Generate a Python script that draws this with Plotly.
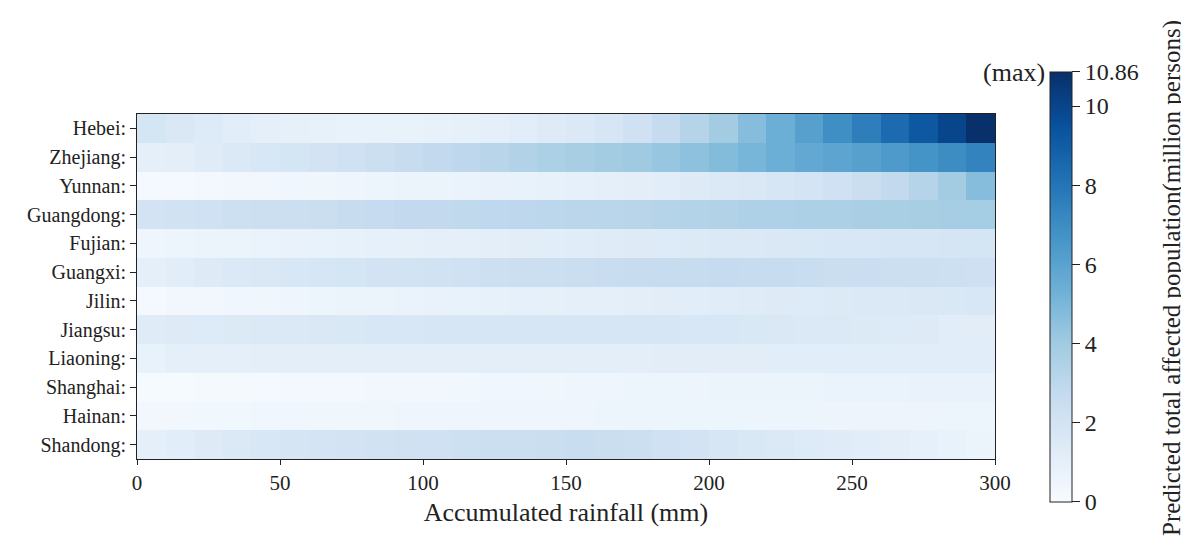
import plotly.graph_objects as go

provinces = ["Hebei:", "Zhejiang:", "Yunnan:", "Guangdong:", "Fujian:", "Guangxi:",
             "Jilin:", "Jiangsu:", "Liaoning:", "Shanghai:", "Hainan:", "Shandong:"]

rainfall_mm = [5, 15, 25, 35, 45, 55, 65, 75, 85, 95, 105, 115, 125, 135, 145,
               155, 165, 175, 185, 195, 205, 215, 225, 235, 245, 255, 265, 275, 285, 295]

hebei = [1.9, 1.6, 1.4, 1.2, 1.05, 0.95, 0.85, 0.8, 0.8, 0.8, 0.85, 0.95, 1.05, 1.2, 1.35,
         1.55, 1.8, 2.2, 2.7, 3.3, 3.9, 4.7, 5.4, 6.1, 6.9, 7.6, 8.4, 9.2, 10.0, 10.86]
zhejiang = [1.0, 1.1, 1.3, 1.5, 1.7, 1.9, 2.0, 2.2, 2.4, 2.6, 2.8, 3.0, 3.2, 3.4, 3.6,
            3.75, 3.9, 4.05, 4.25, 4.5, 4.8, 5.1, 5.4, 5.7, 5.9, 6.1, 6.4, 6.7, 7.0, 7.4]
yunnan = [0.2, 0.2, 0.25, 0.3, 0.35, 0.4, 0.45, 0.5, 0.55, 0.6, 0.65, 0.7, 0.75, 0.8, 0.85,
          0.9, 1.0, 1.1, 1.2, 1.35, 1.5, 1.6, 1.75, 1.95, 2.2, 2.5, 2.8, 3.3, 3.9, 4.7]
guangdong = [2.0, 2.1, 2.2, 2.3, 2.4, 2.4, 2.5, 2.6, 2.7, 2.8, 2.85, 2.9, 2.95, 3.0, 3.05,
             3.1, 3.15, 3.2, 3.3, 3.35, 3.4, 3.5, 3.5, 3.6, 3.6, 3.65, 3.7, 3.75, 3.8, 3.85]
fujian = [0.5, 0.55, 0.6, 0.65, 0.7, 0.75, 0.8, 0.85, 0.9, 0.95, 1.0, 1.05, 1.1, 1.15, 1.2,
          1.25, 1.3, 1.35, 1.4, 1.45, 1.5, 1.55, 1.6, 1.65, 1.7, 1.7, 1.75, 1.8, 1.85, 1.9]
guangxi = [1.0, 1.2, 1.35, 1.5, 1.6, 1.7, 1.8, 1.9, 2.0, 2.05, 2.1, 2.2, 2.3, 2.35, 2.4,
           2.5, 2.55, 2.6, 2.65, 2.65, 2.7, 2.65, 2.6, 2.55, 2.5, 2.45, 2.4, 2.35, 2.3, 2.25]
jilin = [0.2, 0.3, 0.35, 0.4, 0.45, 0.5, 0.55, 0.6, 0.65, 0.7, 0.75, 0.8, 0.85, 0.9, 0.95,
         1.0, 1.05, 1.1, 1.15, 1.2, 1.25, 1.3, 1.35, 1.4, 1.45, 1.5, 1.55, 1.6, 1.65, 1.7]
jiangsu = [1.3, 1.35, 1.4, 1.45, 1.5, 1.55, 1.6, 1.65, 1.7, 1.7, 1.75, 1.75, 1.8, 1.8, 1.8,
           1.8, 1.8, 1.75, 1.75, 1.7, 1.7, 1.65, 1.6, 1.55, 1.5, 1.45, 1.4, 1.35, 1.2, 1.15]
liaoning = [0.8, 1.0, 1.05, 1.05, 1.1, 1.1, 1.1, 1.1, 1.1, 1.1, 1.1, 1.1, 1.1, 1.1, 1.1,
            1.1, 1.1, 1.1, 1.15, 1.15, 1.15, 1.15, 1.2, 1.2, 1.2, 1.2, 1.2, 1.2, 1.2, 1.2]
shanghai = [0.1, 0.12, 0.15, 0.18, 0.2, 0.22, 0.25, 0.27, 0.3, 0.32, 0.35, 0.37, 0.4, 0.42, 0.45,
            0.47, 0.5, 0.52, 0.55, 0.57, 0.6, 0.62, 0.64, 0.66, 0.68, 0.7, 0.72, 0.74, 0.76, 0.78]
hainan = [0.3, 0.33, 0.36, 0.38, 0.4, 0.42, 0.44, 0.45, 0.46, 0.47, 0.48, 0.49, 0.5, 0.5, 0.51,
          0.51, 0.52, 0.52, 0.53, 0.53, 0.54, 0.54, 0.55, 0.55, 0.56, 0.56, 0.57, 0.57, 0.58, 0.58]
shandong = [1.0, 1.2, 1.35, 1.5, 1.7, 1.85, 1.95, 2.0, 2.1, 2.15, 2.2, 2.3, 2.35, 2.4, 2.5,
            2.55, 2.5, 2.4, 2.2, 2.0, 1.8, 1.65, 1.5, 1.4, 1.3, 1.2, 1.1, 0.9, 0.8, 0.65]

z_values = [hebei, zhejiang, yunnan, guangdong, fujian, guangxi,
            jilin, jiangsu, liaoning, shanghai, hainan, shandong]

x_ticks = [0, 50, 100, 150, 200, 250, 300]
cb_ticks = [0, 2, 4, 6, 8, 10, 10.86]
cb_ticktext = ["0", "2", "4", "6", "8", "10", "10.86"]
z_max = 10.86

blues = [[0.0, "rgb(247,251,255)"], [0.125, "rgb(222,235,247)"], [0.25, "rgb(198,219,239)"],
         [0.375, "rgb(158,202,225)"], [0.5, "rgb(107,174,214)"], [0.625, "rgb(66,146,198)"],
         [0.75, "rgb(33,113,181)"], [0.875, "rgb(8,81,156)"], [1.0, "rgb(8,48,107)"]]

font_family = "Liberation Serif, Times New Roman, serif"
ink = "#222222"

fig = go.Figure(go.Heatmap(
    z=z_values, x=rainfall_mm, y=provinces,
    colorscale=blues, zmin=0, zmax=z_max,
    colorbar=dict(
        tickvals=cb_ticks, ticktext=cb_ticktext,
        ticks="outside", ticklen=8, tickwidth=1, tickcolor=ink,
        tickfont=dict(family=font_family, size=24, color=ink),
        thickness=22, thicknessmode="pixels",
        len=430, lenmode="pixels",
        x=1.064, xanchor="left", xpad=0,
        y=0.4986, yanchor="middle", ypad=0,
        outlinewidth=1, outlinecolor=ink,
    ),
))

fig.update_layout(
    width=1181, height=549,
    margin=dict(l=129, r=194, t=106, b=98),
    paper_bgcolor="white", plot_bgcolor="white",
    font=dict(family=font_family, size=20, color=ink),
    xaxis=dict(range=[0, 300], tickvals=x_ticks, ticks="outside", ticklen=5,
               tickcolor=ink, showline=True, linecolor=ink, linewidth=1, mirror=True,
               showgrid=False, zeroline=False,
               tickfont=dict(family=font_family, size=21, color=ink),
               title=dict(text="Accumulated rainfall (mm)",
                          font=dict(family=font_family, size=26, color=ink), standoff=8)),
    yaxis=dict(autorange="reversed", ticks="outside", ticklen=6, tickcolor=ink,
               showline=True, linecolor=ink, linewidth=1, mirror=True,
               showgrid=False, zeroline=False,
               tickfont=dict(family=font_family, size=20, color=ink)),
    annotations=[
        dict(text="(max)", xref="paper", yref="paper",
             x=1.061, y=1.12, xanchor="right", yanchor="middle",
             showarrow=False, font=dict(family=font_family, size=26, color=ink)),
        dict(text="Predicted total affected population(million persons)",
             xref="paper", yref="paper", x=1.2063, y=0.5246,
             xanchor="center", yanchor="middle", textangle=-90,
             showarrow=False, font=dict(family=font_family, size=25, color=ink)),
    ],
)

fig.write_html("out.html")
